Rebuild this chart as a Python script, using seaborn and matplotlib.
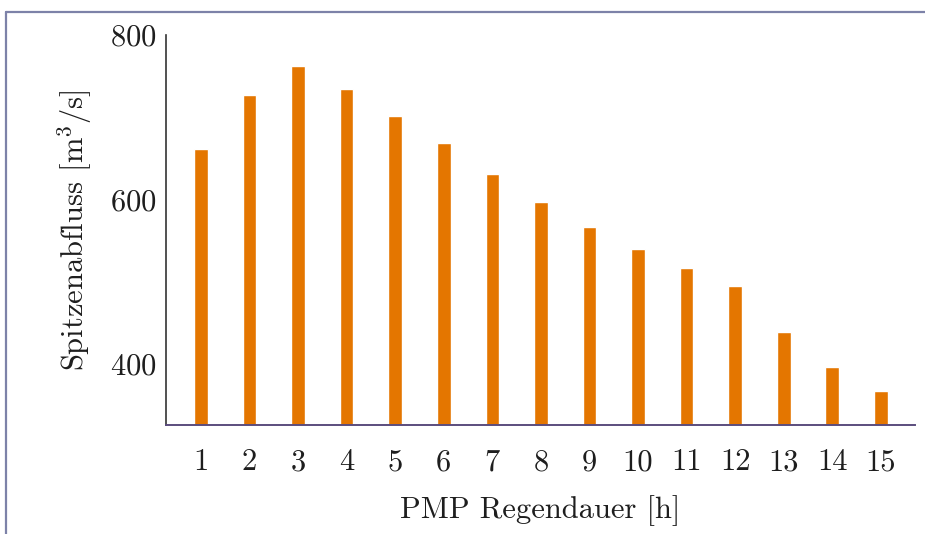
import matplotlib
matplotlib.use("Agg")
import matplotlib.pyplot as plt
import seaborn as sns
import pandas as pd
from matplotlib.lines import Line2D

# values
durations = [str(h) for h in range(1, 16)]
peak_flow = [661, 727, 762, 735, 701, 669, 631, 597, 566, 540, 516, 494, 438, 396, 367]

sns.set_theme(style="white")
plt.rcParams['font.family'] = ['cmr10', 'DejaVu Serif']
plt.rcParams['mathtext.fontset'] = 'cm'
plt.rcParams['axes.formatter.use_mathtext'] = True

df = pd.DataFrame({'dauer': durations, 'abfluss': peak_flow})

fig = plt.figure(figsize=(9.25, 5.34), dpi=100)
ax = fig.add_axes([0.1795, 0.204, 0.8095, 0.730])

sns.barplot(data=df, x='dauer', y='abfluss', color='#E47600', saturation=1,
            width=0.28, ax=ax)

ax.set_ylim(325, 800)
ax.set_xlim(-0.72, 14.7)
ax.set_yticks([400, 600, 800])

for s in ['top', 'right']:
    ax.spines[s].set_visible(False)
ax.spines['left'].set_color('#333333')
ax.spines['left'].set_linewidth(1.2)
ax.spines['bottom'].set_color('#5b4d7d')
ax.spines['bottom'].set_linewidth(1.4)

fs = 22
ax.tick_params(axis='y', direction='in', length=9, width=0.8, color='#b0b0b0',
               labelsize=fs, pad=7, labelcolor='#1e1e1e')
ax.tick_params(axis='x', direction='out', length=9, width=0.8, color='#d4bca4',
               labelsize=fs, pad=8, labelcolor='#1e1e1e')

ax.set_xlabel('PMP Regendauer [h]', fontsize=fs, labelpad=14, color='#1e1e1e')
ax.set_ylabel(r'Spitzenabfluss [m$^3$/s]', fontsize=fs, labelpad=11, color='#1e1e1e')

# scanned frame around the figure
fig.add_artist(Line2D([0.0065, 1.0], [0.9775, 0.9775], transform=fig.transFigure,
                      color='#7d82a8', lw=1.6))
fig.add_artist(Line2D([0.0065, 0.0065], [0.0, 0.9775], transform=fig.transFigure,
                      color='#7d82a8', lw=1.6))

fig.savefig('out.png', dpi=100)
